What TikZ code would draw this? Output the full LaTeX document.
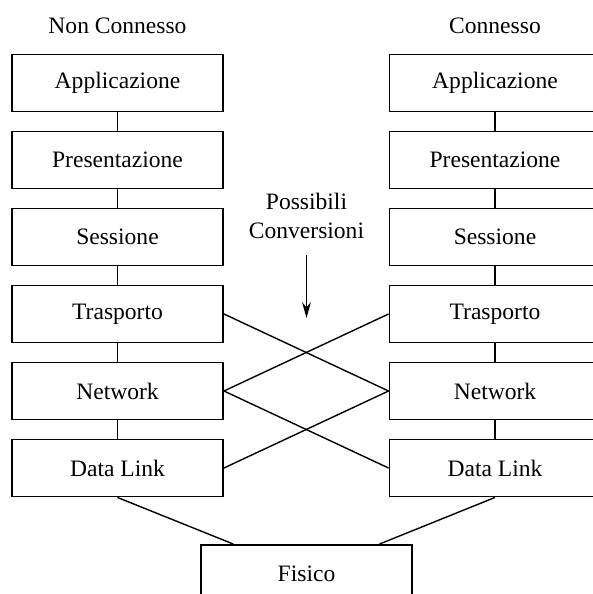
\documentclass[tikz,border=0pt]{standalone}
\usepackage{fontspec}
\setmainfont{Liberation Serif}
\usetikzlibrary{arrows.meta}

\begin{document}
\begin{tikzpicture}[layer/.style={draw,line width=1.1pt,minimum width=4.22cm,minimum height=1.14cm,font=\fontsize{13.4}{16}\selectfont},
  wire/.style={line width=0.8pt},
  caption/.style={font=\fontsize{13.4}{16}\selectfont,align=center}]
\clip (0,0) rectangle (11.86,11.88);
\node[caption] (nctitle) at (2.35,11.36) {Non Connesso};
\node[caption] (ctitle) at (9.9,11.36) {Connesso};
% colonna non connessa
\node[layer] (lapp) at (2.35,10.22) {Applicazione};
\node[layer] (lpres) at (2.35,8.68) {Presentazione};
\node[layer] (lsess) at (2.35,7.14) {Sessione};
\node[layer] (ltras) at (2.35,5.60) {Trasporto};
\node[layer] (lnet) at (2.35,4.06) {Network};
\node[layer] (llink) at (2.35,2.52) {Data Link};
% colonna connessa
\node[layer] (rapp) at (9.9,10.22) {Applicazione};
\node[layer] (rpres) at (9.9,8.68) {Presentazione};
\node[layer] (rsess) at (9.9,7.14) {Sessione};
\node[layer] (rtras) at (9.9,5.60) {Trasporto};
\node[layer] (rnet) at (9.9,4.06) {Network};
\node[layer] (rlink) at (9.9,2.52) {Data Link};
% fisico in comune
\node[layer] (fis) at (6.13,0.41) {Fisico};
\node[caption] (conv) at (6.13,7.56) {Possibili\\Conversioni};
\coordinate (arrtop) at (6.13,6.78);
\coordinate (arrtip) at (6.13,5.52);
\draw[wire,-{Stealth[length=9pt,width=5pt]}] (arrtop) -- (arrtip);
% pile
\draw[wire] (lapp) -- (lpres) -- (lsess) -- (ltras) -- (lnet) -- (llink);
\draw[wire] (rapp) -- (rpres) -- (rsess) -- (rtras) -- (rnet) -- (rlink);
% incroci
\draw[wire] (ltras.east) -- (rnet.west);
\draw[wire] (lnet.east) -- (rtras.west);
\draw[wire] (lnet.east) -- (rlink.west);
\draw[wire] (llink.east) -- (rnet.west);
\draw[wire] (llink.south) -- (fis);
\draw[wire] (rlink.south) -- (fis);
\end{tikzpicture}
\end{document}
